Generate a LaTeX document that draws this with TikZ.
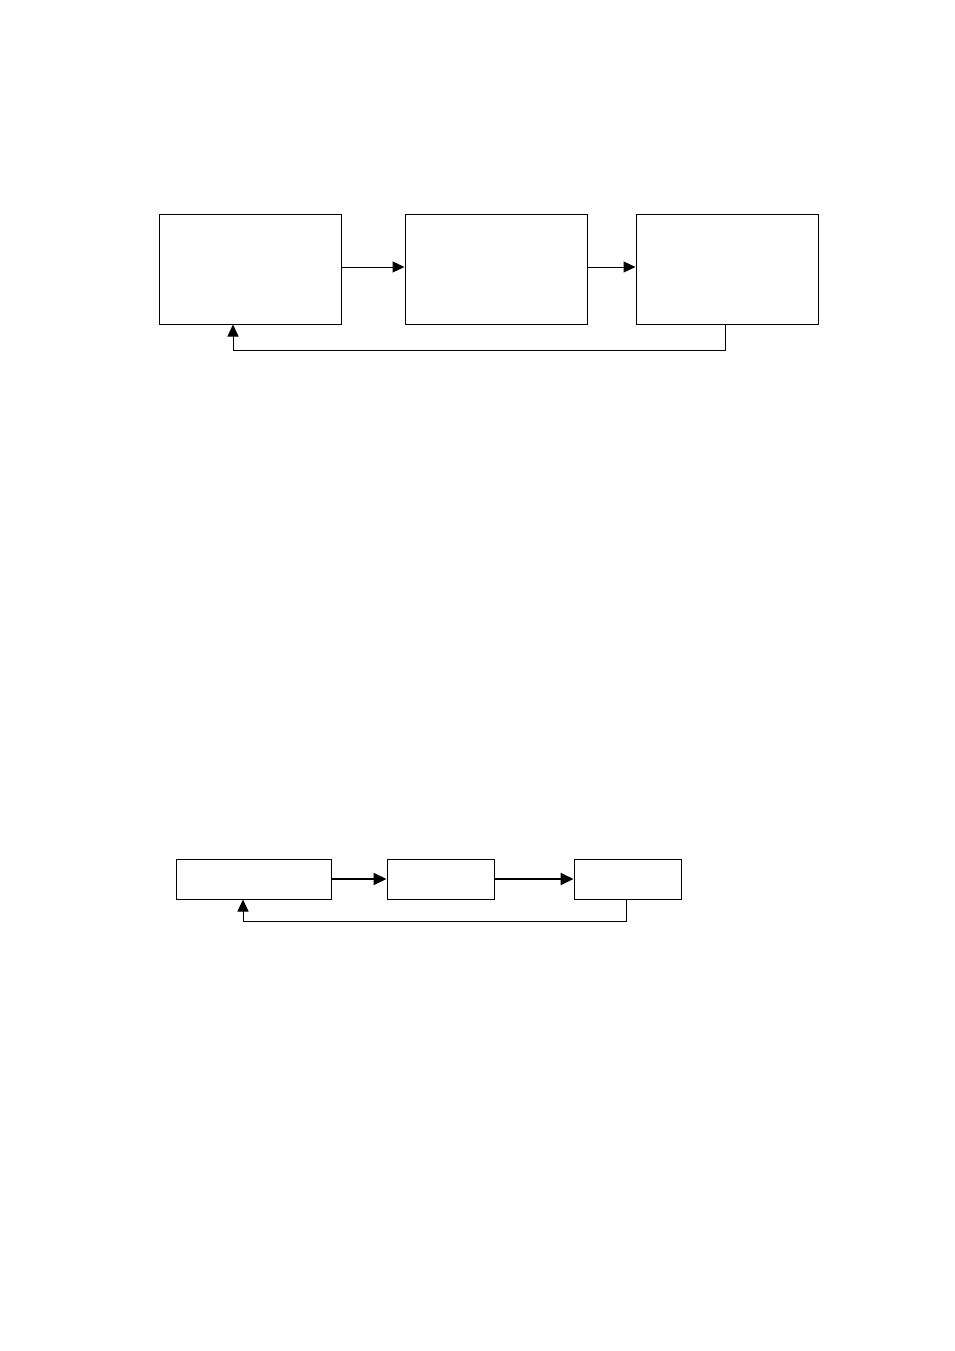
\documentclass[tikz,border=0pt]{standalone}
\usetikzlibrary{arrows.meta}
\begin{document}
\begin{tikzpicture}[x=1pt,y=-1pt,
  blk/.style={draw,line width=1pt,minimum width=0pt,minimum height=0pt,inner sep=0pt},
  arr/.style={line width=1pt,-{Triangle[length=12pt,width=11pt]}},
  arrb/.style={line width=2pt,-{Triangle[length=13pt,width=12pt]}},
  fb/.style={line width=1pt,-{Triangle[length=12pt,width=11pt]}}]
\useasboundingbox (0,0) rectangle (954,1351);
\fill[white] (0,0) rectangle (954,1351);
% top row
\node[blk,minimum width=182pt,minimum height=110pt] (a1) at (250,269) {};
\node[blk,minimum width=182pt,minimum height=110pt] (a2) at (496,269) {};
\node[blk,minimum width=182pt,minimum height=110pt] (a3) at (727,269) {};
\draw[arr] (a1.east |- 0,267) -- (a2.west |- 0,267);
\draw[arr] (a2.east |- 0,267) -- (a3.west |- 0,267);
\coordinate (t1) at (725,350);
\coordinate (t2) at (233,350);
\draw[fb] (a3.south -| t1) -- (t1) -- (t2) -- (a1.south -| t2);
% bottom row
\node[blk,minimum width=155pt,minimum height=40pt] (b1) at (253.5,879) {};
\node[blk,minimum width=107pt,minimum height=40pt] (b2) at (440.5,879) {};
\node[blk,minimum width=107pt,minimum height=40pt] (b3) at (627.5,879) {};
\draw[arrb] (b1.east) -- (b2.west);
\draw[arrb] (b2.east) -- (b3.west);
\coordinate (u1) at (626,921);
\coordinate (u2) at (243,921);
\draw[fb] (b3.south -| u1) -- (u1) -- (u2) -- (b1.south -| u2);
\end{tikzpicture}
\end{document}
